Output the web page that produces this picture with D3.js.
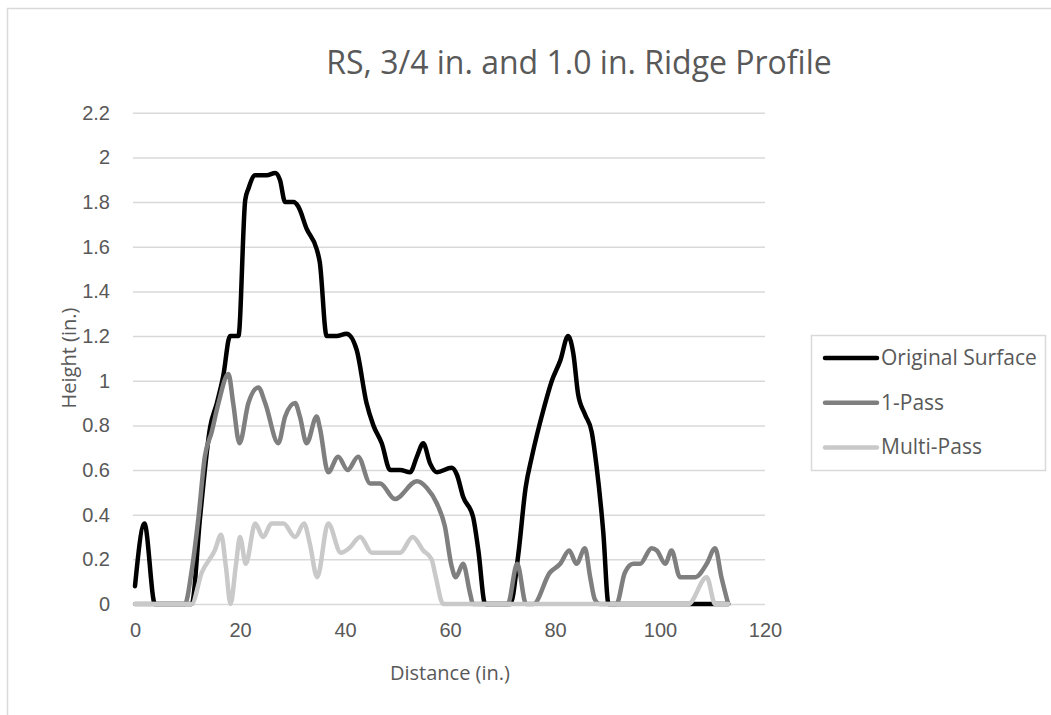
<!DOCTYPE html>
<html>
<head>
<meta charset="utf-8">
<script src="https://cdn.jsdelivr.net/npm/d3@7"></script>
<style>
  body { margin: 0; background: #fff; }
  svg { display: block; font-family: "Open Sans", sans-serif; }
</style>
</head>
<body>
<svg width="1051" height="715"></svg>
<script>
// Series (distance in inches, height in inches)
const originalX = [0, 1.8, 3.8, 10.8, 12.4, 14.3, 15.6, 16.8, 18.1, 19.7, 21, 21.6, 22.9, 25.1, 26.7, 27.6, 28.6, 30.2, 31.1, 32.7, 34.6, 35.2, 36.5, 38.4, 40.3, 42.2, 44.1, 45.4, 47, 48.6, 50.5, 52.4, 53.7, 54.9, 56.2, 57.5, 60.3, 61.3, 62.5, 64.4, 65.4, 66.7, 71.5, 73, 74.4, 75.6, 77.8, 79.4, 81, 82.5, 83.5, 84.4, 85.7, 87, 87.9, 89.2, 90.2, 113];
const originalY = [0.08, 0.36, 0, 0, 0.39, 0.79, 0.9, 1.02, 1.2, 1.2, 1.81, 1.86, 1.92, 1.92, 1.93, 1.9, 1.8, 1.8, 1.78, 1.68, 1.59, 1.53, 1.2, 1.2, 1.21, 1.14, 0.9, 0.8, 0.72, 0.6, 0.6, 0.59, 0.66, 0.72, 0.63, 0.59, 0.61, 0.58, 0.48, 0.39, 0.24, 0, 0, 0.22, 0.52, 0.66, 0.87, 1.0, 1.09, 1.2, 1.12, 0.94, 0.85, 0.77, 0.62, 0.32, 0, 0];

const onePassX = [0, 9.5, 10.8, 12.1, 13.3, 14.6, 15.9, 17.8, 18.7, 19.9, 21.6, 23.5, 24.8, 27.3, 28.6, 30.5, 31.4, 32.7, 34.6, 35.2, 36.8, 38.7, 40.5, 42.5, 44.8, 46.7, 49.5, 53.7, 55.6, 57.5, 59, 60.3, 61.1, 62.5, 63.8, 64.4, 71, 72.8, 74.5, 75.9, 79, 81, 82.7, 84.1, 85.7, 86.7, 87.6, 88.5, 91.7, 93.3, 94.9, 96.2, 98.4, 99.4, 101, 102.2, 103.8, 105, 106.7, 108.9, 110.5, 111.7, 113];
const onePassY = [0, 0, 0.15, 0.39, 0.66, 0.77, 0.9, 1.03, 0.9, 0.72, 0.9, 0.97, 0.9, 0.72, 0.84, 0.9, 0.84, 0.72, 0.84, 0.79, 0.59, 0.66, 0.6, 0.66, 0.54, 0.54, 0.47, 0.55, 0.52, 0.45, 0.35, 0.17, 0.12, 0.18, 0.05, 0, 0, 0.18, 0, 0, 0.14, 0.18, 0.24, 0.18, 0.25, 0.12, 0.02, 0, 0, 0.14, 0.18, 0.18, 0.25, 0.24, 0.18, 0.24, 0.12, 0.12, 0.12, 0.18, 0.25, 0.12, 0];

const multiPassX = [0, 10.8, 12.7, 15.2, 16.4, 17.3, 18.2, 19.2, 20, 21.1, 22.9, 24.4, 26, 28.3, 30.5, 32.2, 33.3, 34.7, 36.8, 39.2, 40.8, 42.9, 45.1, 50.5, 52.9, 54.9, 56.5, 57.3, 58.7, 105.4, 108.9, 110.5, 113];
const multiPassY = [0, 0, 0.14, 0.24, 0.31, 0.17, 0, 0.17, 0.3, 0.18, 0.36, 0.3, 0.36, 0.36, 0.3, 0.36, 0.27, 0.12, 0.36, 0.23, 0.25, 0.3, 0.23, 0.23, 0.3, 0.24, 0.2, 0.12, 0, 0, 0.12, 0, 0];

const seriesNames = ['Original Surface', '1-Pass', 'Multi-Pass'];
const seriesColors = ['#000000', '#7f7f7f', '#c9c9c9'];
const xTicks = [0, 20, 40, 60, 80, 100, 120];
const yTicks = [0, 0.2, 0.4, 0.6, 0.8, 1, 1.2, 1.4, 1.6, 1.8, 2, 2.2];

const svg = d3.select('svg');
const textColor = '#595959';
const gridColor = '#d9d9d9';

// Outer chart border (chart is cropped on right and bottom)
svg.append('rect')
    .attr('x', 7.5).attr('y', 8.5)
    .attr('width', 1200).attr('height', 800)
    .attr('fill', '#fff')
    .attr('stroke', gridColor)
    .attr('stroke-width', 1.5);

const x = d3.scaleLinear().domain([0, 120]).range([135, 765]);
const y = d3.scaleLinear().domain([0, 2.2]).range([604, 112.8]);

// Gridlines + y labels
const yAxis = svg.append('g')
    .attr('transform', `translate(${x(0)},0)`)
    .call(d3.axisLeft(y).tickValues(yTicks).tickSize(-(x(120) - x(0))).tickPadding(25)
        .tickFormat((d) => String(+d.toFixed(1))));
yAxis.select('.domain').remove();
yAxis.selectAll('line').attr('x1', -2).attr('stroke', gridColor).attr('stroke-width', 1.5);
yAxis.selectAll('text').attr('fill', textColor).style('font-size', '20px');

// X labels
const xAxis = svg.append('g')
    .attr('transform', `translate(0,${y(0)})`)
    .call(d3.axisBottom(x).tickValues(xTicks).tickSize(0).tickPadding(19));
xAxis.select('.domain').remove();
xAxis.selectAll('text').attr('fill', textColor).style('font-size', '20px');

// Lines
const series = [
    { xs: originalX, ys: originalY },
    { xs: onePassX, ys: onePassY },
    { xs: multiPassX, ys: multiPassY },
];
const line = d3.line()
    .x((d) => x(d[0]))
    .y((d) => y(d[1]))
    .curve(d3.curveMonotoneX);

series.forEach((s, i) => {
    const pts = s.xs.map((v, j) => [v, s.ys[j]]);
    svg.append('path')
        .datum(pts)
        .attr('d', line)
        .attr('fill', 'none')
        .attr('stroke', seriesColors[i])
        .attr('stroke-width', 4.5)
        .attr('stroke-linejoin', 'round')
        .attr('stroke-linecap', 'round');
});

// Title
svg.append('text')
    .attr('x', 579).attr('y', 74)
    .attr('text-anchor', 'middle')
    .attr('fill', textColor)
    .style('font-size', '32px')
    .text('RS, 3/4 in. and 1.0 in. Ridge Profile');

// Axis titles
svg.append('text')
    .attr('transform', 'translate(76,358) rotate(-90)')
    .attr('text-anchor', 'middle')
    .attr('fill', textColor)
    .style('font-size', '20px')
    .text('Height (in.)');
svg.append('text')
    .attr('x', 450).attr('y', 680)
    .attr('text-anchor', 'middle')
    .attr('fill', textColor)
    .style('font-size', '20px')
    .text('Distance (in.)');

// Legend
const legend = svg.append('g');
legend.append('rect')
    .attr('x', 811.5).attr('y', 335.5)
    .attr('width', 234).attr('height', 135)
    .attr('fill', '#fff')
    .attr('stroke', gridColor)
    .attr('stroke-width', 1.5);
seriesNames.forEach((name, i) => {
    const cy = 358 + i * 44.7;
    legend.append('line')
        .attr('x1', 825).attr('x2', 877)
        .attr('y1', cy).attr('y2', cy)
        .attr('stroke', seriesColors[i])
        .attr('stroke-width', 4.5)
        .attr('stroke-linecap', 'round');
    legend.append('text')
        .attr('x', 881).attr('y', cy + 7)
        .attr('fill', textColor)
        .style('font-size', '21px')
        .text(name);
});
</script>
</body>
</html>
